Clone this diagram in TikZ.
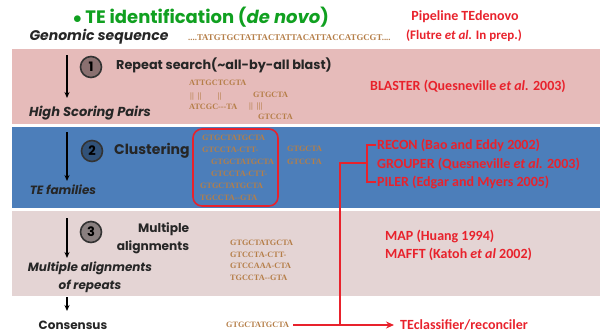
\documentclass[tikz,border=0pt]{standalone}
\usepackage{fontspec}
\setmainfont{Poppins}
\newfontfamily\redf{Carlito}
\newfontfamily\seqf[Ligatures=TeXOff]{Liberation Serif}
\usetikzlibrary{arrows.meta}
\definecolor{bandA}{HTML}{E6BBBA}
\definecolor{bandB}{HTML}{4C7EBA}
\definecolor{bandC}{HTML}{E4D4D4}
\definecolor{redT}{HTML}{E8222C}
\definecolor{greenT}{HTML}{10A020}
\definecolor{seqC}{HTML}{B57E48}
\tikzset{
  band/.style={draw=none},
  lbl/.style={font=\fontsize{13}{16}\selectfont\bfseries\itshape, text=black!85, inner sep=0pt},
  stp/.style={font=\fontsize{12.8}{18}\selectfont\bfseries, text=black!85, inner sep=0pt},
  red/.style={font=\redf\fontsize{14}{18}\selectfont\bfseries, text=redT, inner sep=0pt, anchor=west},
  seq/.style={font=\seqf\fontsize{8.2}{11}\selectfont\bfseries, text=seqC, inner sep=0pt},
  num/.style={circle, draw=black!80, line width=1.6pt, minimum size=21pt, inner sep=0pt, font=\fontsize{13}{13}\selectfont\bfseries},
  flow/.style={-{Stealth[length=6pt,width=5pt]}, line width=1.4pt, black},
  redline/.style={draw=redT, line width=1.6pt}
}
\begin{document}
\begin{tikzpicture}[x=1pt,y=-1pt]
\useasboundingbox (0,0) rectangle (600,333);
% bands
\fill[bandA] (12,49) rectangle (600,124);
\fill[bandB] (12,127) rectangle (600,208);
\fill[bandC] (12,211) rectangle (600,296);
% title
\node[font=\fontsize{18}{20}\selectfont\bfseries, text=greenT, inner sep=0pt] (title) at (201,17) {$\bullet$ TE identification (\textit{de novo})};
\node[red, anchor=center, font=\redf\fontsize{14}{16}\selectfont\bfseries] (pipe) at (465,17) {Pipeline TEdenovo};
\node[red, anchor=center, font=\redf\fontsize{13}{15}\selectfont\bfseries] (flutre) at (464,36) {(Flutre \textit{et al.} In prep.)};
\node[lbl, font=\fontsize{14}{16}\selectfont\bfseries\itshape] (genomic) at (99,37) {Genomic sequence};
\node[seq, anchor=west, font=\seqf\fontsize{8.8}{11}\selectfont\bfseries] (gseq) at (188,38) {....TATGTGCTATTACTATTACATTACCATGCGT....};
% band 1
\draw[flow] (67,55) -- (67,98);
\node[num, fill=black!40!bandA] (n1) at (91,67) {1};
\node[stp, anchor=west] (s1) at (116,65) {Repeat search(\textasciitilde all-by-all blast)};
\node[seq, anchor=west] (a1) at (189,83) {ATTGCTCGTA};
\node[seq, anchor=west] (a2) at (190,97) {||\ \ ||\ \ \ \ \ \ \ \ ||};
\node[seq, anchor=west] (a3) at (253,95) {GTGCTA};
\node[seq, anchor=west] (a4) at (189,107) {ATCGC---TA};
\node[seq, anchor=west] (a5) at (249,107) {||\ \ |||};
\node[seq, anchor=west] (a6) at (258,117) {GTCCTA};
\node[lbl] (hsp) at (90,113) {High Scoring Pairs};
\node[red] (blaster) at (370,86) {BLASTER (Quesneville \textit{et al.} 2003)};
% band 2
\draw[flow] (67,132) -- (67,181);
\node[num, fill=black!35!bandB] (n2) at (92,151) {2};
\node[stp, anchor=west, font=\fontsize{14}{18}\selectfont\bfseries] (s2) at (114,151) {Clustering};
\node[lbl, font=\fontsize{12}{15}\selectfont\bfseries\itshape] (tef) at (63,190) {TE families};
\draw[redline, rounded corners=9pt] (193,129) rectangle (278,206);
\node[seq, anchor=west] (c1) at (202,138) {GTGCTATGCTA};
\node[seq, anchor=west] (c2) at (202,150) {GTCCTA-CTT-};
\node[seq, anchor=west] (c3) at (211,162) {GTGCTATGCTA};
\node[seq, anchor=west] (c4) at (211,174) {GTCCTA-CTT-};
\node[seq, anchor=west] (c5) at (200,186) {GTGCTATGCTA};
\node[seq, anchor=west] (c6) at (200,198) {TGCCTA--GTA};
\node[seq, anchor=west] (c7) at (287,149) {GTGCTA};
\node[seq, anchor=west] (c8) at (287,162) {GTCCTA};
\node[red] (recon) at (377,145) {RECON (Bao and Eddy 2002)};
\node[red] (grouper) at (377,164) {GROUPER (Quesneville \textit{et al.} 2003)};
\node[red] (piler) at (377,182) {PILER (Edgar and Myers 2005)};
\draw[redline] ([xshift=-1pt]recon.west) -- (367,145) -- (367,182) -- ([xshift=-1pt]piler.west);
\coordinate (bmid) at (367,163);
\coordinate (join) at (340,163);
% band 3
\draw[flow] (67,218) -- (67,258);
\node[num, fill=black!40!bandC] (n3) at (91,232) {3};
\node[stp, align=right, font=\fontsize{12.2}{18}\selectfont\bfseries] (s3) at (153,238) {Multiple\\alignments};
\node[lbl, align=center, font=\fontsize{12}{18}\selectfont\bfseries\itshape] (mar) at (90,277) {Multiple alignments\\of repeats};
\node[seq, anchor=west] (m1) at (230,243) {GTGCTATGCTA};
\node[seq, anchor=west] (m2) at (230,255) {GTCCTA-CTT-};
\node[seq, anchor=west] (m3) at (230,266) {GTCCAAA-CTA};
\node[seq, anchor=west] (m4) at (230,278) {TGCCTA--GTA};
\node[red] (map) at (385,236) {MAP (Huang 1994)};
\node[red] (mafft) at (385,254) {MAFFT (Katoh \textit{et al} 2002)};
% consensus
\draw[flow] (67,297) -- (67,311);
\node[stp, font=\fontsize{12}{15}\selectfont\bfseries] (cons) at (73,325) {Consensus};
\node[seq, anchor=west] (cseq) at (226,325) {GTGCTATGCTA};
\node[red] (tec) at (400,325) {TEclassifier/reconciler};
\draw[redline] (bmid) -- (join) -- (340,325);
\draw[redline, -{Stealth[length=8pt,width=7pt]}] ([xshift=4pt]cseq.east) -- ([xshift=-6pt]tec.west);
\end{tikzpicture}
\end{document}
